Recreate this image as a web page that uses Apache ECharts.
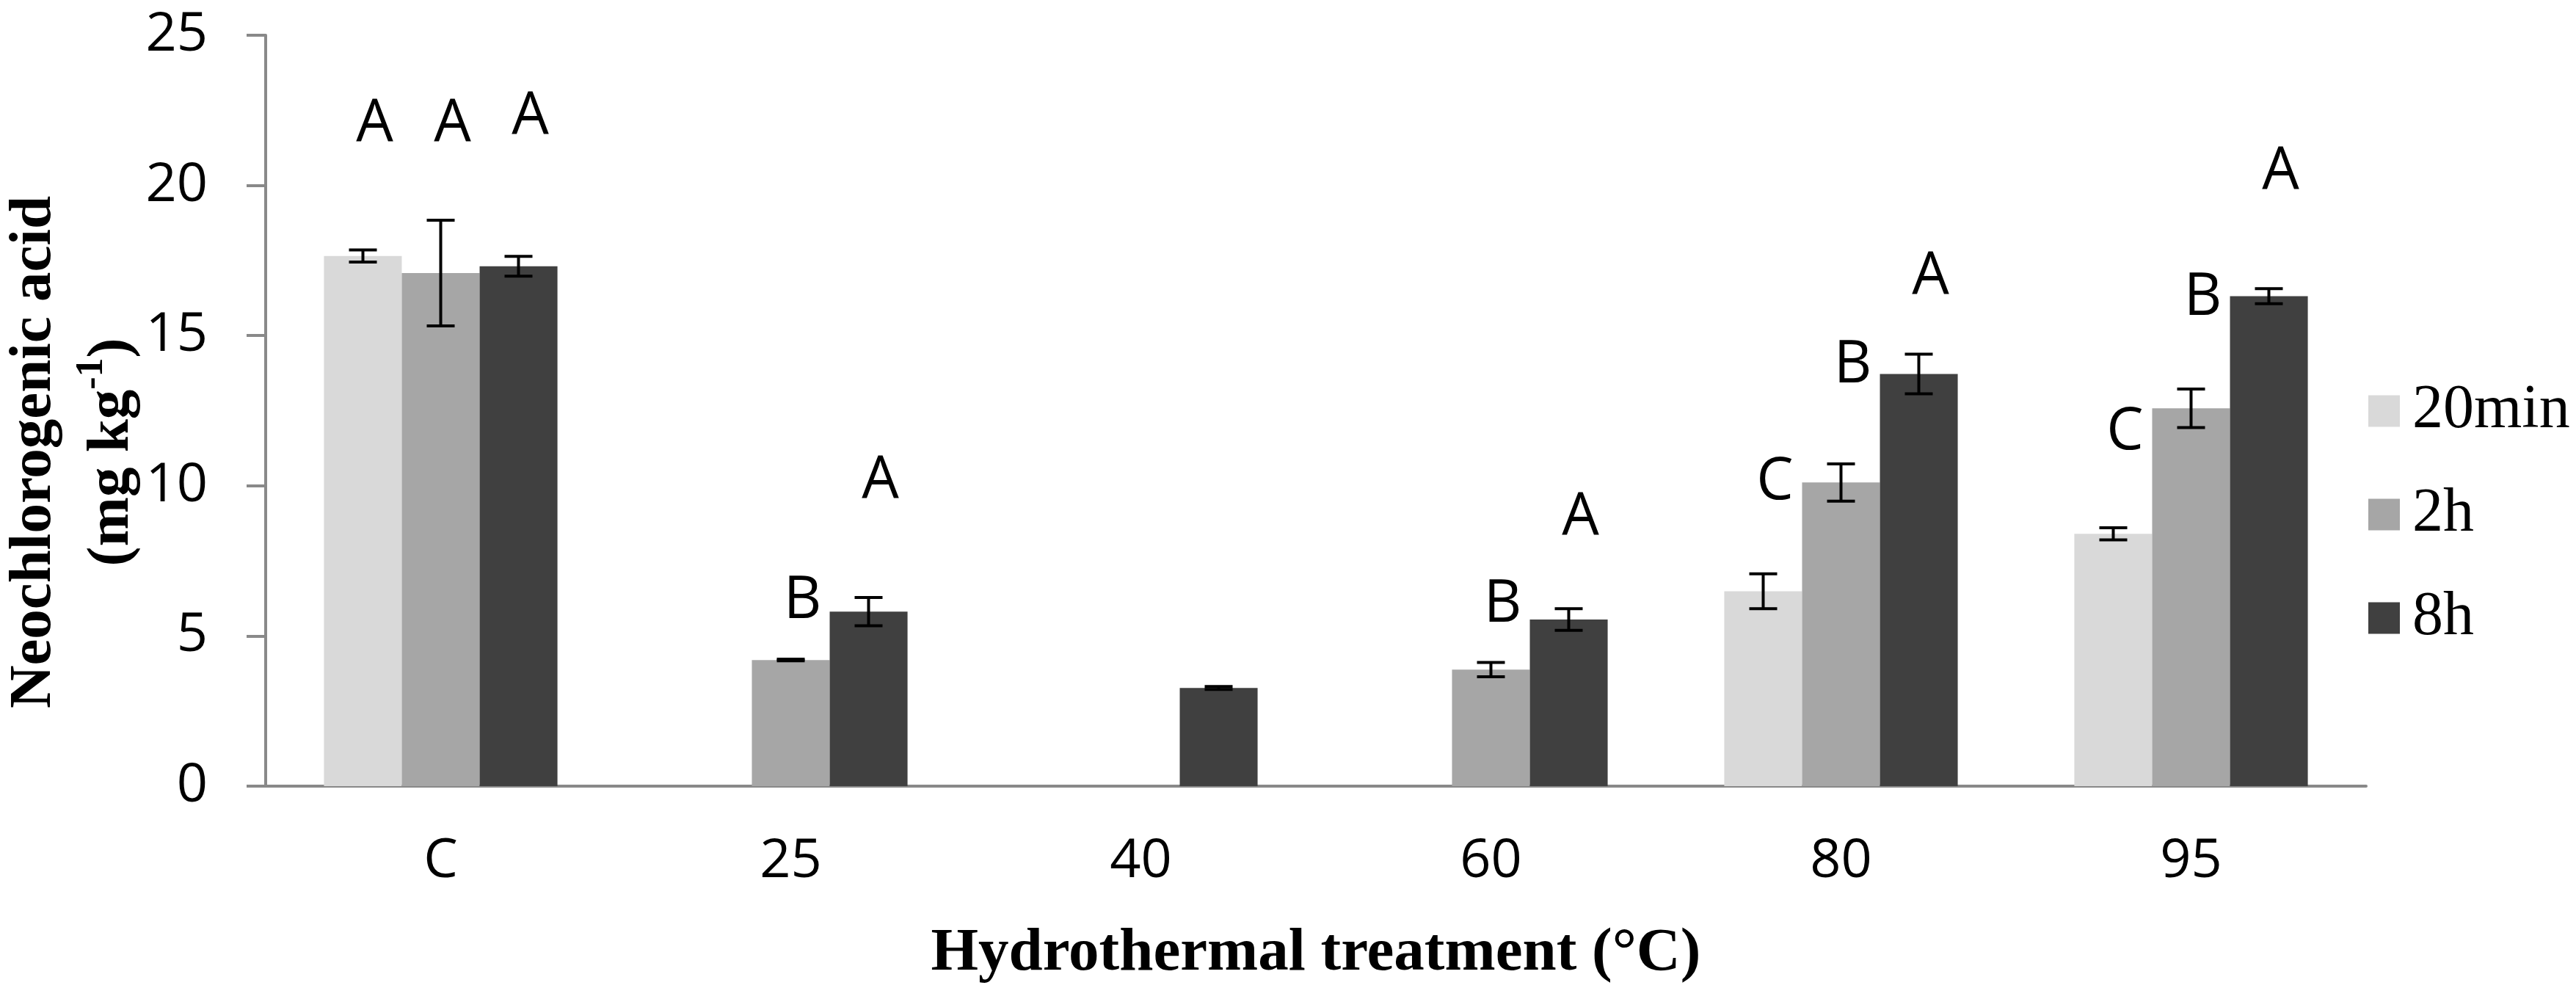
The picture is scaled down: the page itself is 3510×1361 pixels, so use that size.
<!DOCTYPE html>
<html>
<head>
<meta charset="utf-8">
<script src="https://cdn.jsdelivr.net/npm/echarts@6/dist/echarts.min.js"></script>
<style>
html,body{margin:0;padding:0;background:#fff;}
#chart{width:3510px;height:1361px;}
</style>
</head>
<body>
<div id="chart"></div>
<script>
// ---- data ----
const categories = ['C', '25', '40', '60', '80', '95'];
const seriesNames = ['20min', '2h', '8h'];
const yTicks = [0, 5, 10, 15, 20, 25];

const mean20min = [17.65, null, null, null, 6.49, 8.40];
const mean2h    = [17.08, 4.20, null, 3.88, 10.11, 12.58];
const mean8h    = [17.31, 5.81, 3.27, 5.55, 13.72, 16.31];

const err20min = [0.20, null, null, null, 0.58, 0.20];
const err2h    = [1.76, 0.03, null, 0.24, 0.62, 0.64];
const err8h    = [0.33, 0.47, 0.05, 0.36, 0.66, 0.25];

const letters20min = ['A', '', '', '', 'C', 'C'];
const letters2h    = ['A', 'B', '', 'B', 'B', 'B'];
const letters8h    = ['A', 'A', '', 'A', 'A', 'A'];

// height (in axis units) of each letter's baseline
const letterLevel20min = [21.35, null, null, null, 9.44, 11.10];
const letterLevel2h    = [21.35, 5.48, null, 5.35, 13.32, 15.57];
const letterLevel8h    = [21.6, 9.48, null, 8.26, 16.28, 19.77];

const colors = ['#d9d9d9', '#a6a6a6', '#404040'];
const axisGray = '#898989';

function overlay(k, means, errs, letters, levels) {
  const rows = [];
  categories.forEach(function (c, i) {
    if (means[i] != null) rows.push([i, means[i]]);
  });
  return {
    type: 'custom',
    z: 5,
    silent: true,
    data: rows,
    encode: { x: 0, y: 1 },
    renderItem: function (params, api) {
      const i = api.value(0);
      const m = api.value(1);
      const e = errs[i] || 0;
      const band = api.size([1, 0])[0];
      const off = (k - 1) * band * 2 / 9;
      const p = api.coord([i, m]);
      const cx = p[0] + off;
      const yTop = api.coord([i, m + e])[1];
      const yBot = api.coord([i, m - e])[1];
      const half = 19;
      const ls = { stroke: '#000', lineWidth: 4 };
      const children = [
        { type: 'line', shape: { x1: cx, y1: yTop, x2: cx, y2: yBot }, style: ls },
        { type: 'line', shape: { x1: cx - half, y1: yTop, x2: cx + half, y2: yTop }, style: ls },
        { type: 'line', shape: { x1: cx - half, y1: yBot, x2: cx + half, y2: yBot }, style: ls }
      ];
      if (letters[i] && levels[i] != null) {
        const ly = api.coord([i, levels[i]])[1];
        children.push({
          type: 'text',
          style: {
            text: letters[i],
            x: cx + 16,
            y: ly - 28,
            align: 'center',
            verticalAlign: 'middle',
            fontFamily: 'Open Sans',
            fontSize: 80,
            fill: '#000'
          }
        });
      }
      return { type: 'group', children: children };
    }
  };
}

const chart = echarts.init(document.getElementById('chart'), null, { renderer: 'canvas' });

const option = {
  backgroundColor: '#fff',
  animation: false,
  grid: { left: 362, right: 286, top: 48, bottom: 290, containLabel: false },
  legend: {
    data: seriesNames,
    orient: 'vertical',
    left: 3222,
    top: 513,
    icon: 'rect',
    itemWidth: 43,
    itemHeight: 43,
    itemGap: 57,
    textStyle: {
      fontFamily: 'Liberation Serif',
      fontSize: 84,
      lineHeight: 84,
      color: '#000',
      padding: [0, 0, 0, 12]
    }
  },
  xAxis: {
    type: 'category',
    data: categories,
    axisLine: { lineStyle: { color: axisGray, width: 4 } },
    axisTick: { show: false },
    axisLabel: { fontFamily: 'Open Sans', fontSize: 74, color: '#000', margin: 66 },
    splitLine: { show: false }
  },
  yAxis: {
    type: 'value',
    min: yTicks[0],
    max: yTicks[yTicks.length - 1],
    interval: yTicks[1] - yTicks[0],
    axisLine: { show: true, lineStyle: { color: axisGray, width: 4 } },
    axisTick: { show: true, inside: false, length: 26, lineStyle: { color: axisGray, width: 4 } },
    axisLabel: { fontFamily: 'Open Sans', fontSize: 74, color: '#000', margin: 79 },
    splitLine: { show: false }
  },
  graphic: [
    {
      type: 'text',
      x: 100,
      y: 616,
      rotation: Math.PI / 2,
      style: {
        text: '{t|Neochlorogenic acid}\n{t|(mg kg}{s|-1}{t|)}',
        align: 'center',
        verticalAlign: 'middle',
        fill: '#000',
        rich: {
          t: { fontFamily: 'Liberation Serif', fontWeight: 'bold', fontSize: 81, lineHeight: 106 },
          s: { fontFamily: 'Liberation Serif', fontWeight: 'bold', fontSize: 52, lineHeight: 58, verticalAlign: 'top' }
        }
      }
    },
    {
      type: 'text',
      x: 1793,
      y: 1300,
      style: {
        text: 'Hydrothermal treatment (°C)',
        align: 'center',
        verticalAlign: 'middle',
        fill: '#000',
        fontFamily: 'Liberation Serif',
        fontWeight: 'bold',
        fontSize: 83
      }
    }
  ],
  series: [
    { name: seriesNames[0], type: 'bar', data: mean20min, itemStyle: { color: colors[0] }, barGap: '0%', barCategoryGap: '33.3%' },
    { name: seriesNames[1], type: 'bar', data: mean2h, itemStyle: { color: colors[1] }, barGap: '0%', barCategoryGap: '33.3%' },
    { name: seriesNames[2], type: 'bar', data: mean8h, itemStyle: { color: colors[2] }, barGap: '0%', barCategoryGap: '33.3%' },
    overlay(0, mean20min, err20min, letters20min, letterLevel20min),
    overlay(1, mean2h, err2h, letters2h, letterLevel2h),
    overlay(2, mean8h, err8h, letters8h, letterLevel8h)
  ]
};
chart.setOption(option);
</script>
</body>
</html>
